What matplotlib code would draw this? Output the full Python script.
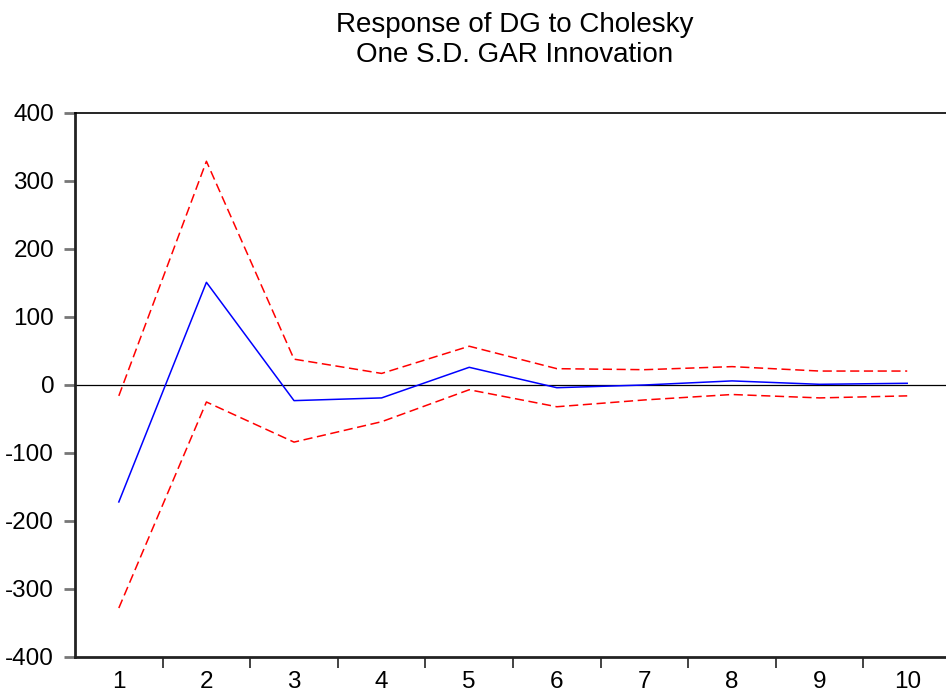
import numpy as np
import matplotlib.pyplot as plt

plt.rcParams["font.family"] = ["Liberation Sans", "DejaVu Sans"]

periods = [1, 2, 3, 4, 5, 6, 7, 8, 9, 10]
response = [-172, 151, -23, -19, 26, -4, 0, 6, 1, 2.5]
upper = [-16, 329, 38, 17, 57, 24, 22.5, 27, 20.5, 20.5]
lower = [-328, -25, -84, -54, -7, -32, -22, -14, -19, -16]
yticks = [-400, -300, -200, -100, 0, 100, 200, 300, 400]

fig = plt.figure(figsize=(9.46, 6.97), dpi=100)
# the plot frame runs past the right edge of the picture, as in the original
ax = fig.add_axes([0.0793, 0.0574, 0.926, 0.7805])

ax.axhline(0, color="black", linewidth=0.9)
ax.plot(periods, response, color="blue", linewidth=1.1)
ax.plot(periods, upper, color="red", linewidth=1.1, dashes=(6, 3))
ax.plot(periods, lower, color="red", linewidth=1.1, dashes=(6, 3))

ax.set_xlim(0.5, 10.5)
ax.set_ylim(-400, 400)
ax.set_yticks(yticks)
ax.set_yticklabels([str(v) for v in yticks], fontsize=17.5)

# category ticks sit on the boundaries, labels in the middle
ax.set_xticks(np.arange(1.5, 10.5, 1))
ax.set_xticklabels([])
ax.set_xticks(periods, minor=True)
ax.set_xticklabels([str(p) for p in periods], minor=True, fontsize=17.5)
ax.tick_params(axis="x", which="major", direction="out", length=8, width=1.2, color="#222222")
ax.tick_params(axis="x", which="minor", length=0, pad=10)
ax.tick_params(axis="y", direction="out", length=8, width=2, color="#777777", pad=7)

for side in ["left", "bottom"]:
    ax.spines[side].set_linewidth(2)
    ax.spines[side].set_color("#222222")
ax.spines["top"].set_linewidth(1.2)
ax.spines["right"].set_visible(False)

fig.text(0.544, 0.943, "Response of DG to Cholesky\nOne S.D. GAR Innovation",
         ha="center", va="center", fontsize=20, linespacing=1.2)

plt.savefig("out.png", dpi=100)
